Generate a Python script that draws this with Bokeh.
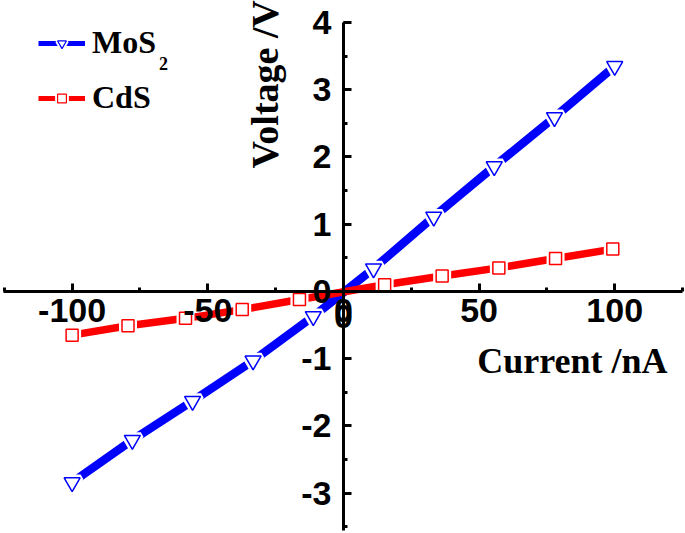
import math
from bokeh.plotting import figure
from bokeh.models import (Range1d, SingleIntervalTicker, Label, Legend, LegendItem,
                          ColumnDataSource, PrintfTickFormatter, AllLabels)
from bokeh.embed import file_html
from bokeh.resources import INLINE

# ---- data ----
mos2_current = [-100, -77.8, -55.6, -33.3, -11.1, 11.1, 33.3, 55.6, 77.8, 100]
mos2_voltage = [-2.84, -2.21, -1.63, -1.03, -0.37, 0.34, 1.11, 1.86, 2.59, 3.35]
cds_current = [-100, -79.4, -58.2, -37.3, -16.2, 15.2, 36.4, 57.3, 78.2, 99.3]
cds_voltage = [-0.65, -0.51, -0.40, -0.27, -0.12, 0.10, 0.23, 0.35, 0.49, 0.63]

series_names = ["MoS", "CdS"]
x_label = "Current /nA"
y_label = "Voltage /V"

BLUE = "#0000FF"
RED = "#FF0000"

p = figure(width=685, height=533, output_backend="svg", toolbar_location=None,
           x_range=Range1d(-126.4, 126.1), y_range=Range1d(-3.6, 4.327),
           min_border=0, min_border_left=0, min_border_right=0,
           min_border_top=0, min_border_bottom=0)
p.outline_line_color = None
p.xgrid.visible = False
p.ygrid.visible = False
p.background_fill_color = "white"
p.border_fill_color = "white"

# axes crossing at the origin
p.xaxis.fixed_location = 0
p.yaxis.fixed_location = 0
p.xaxis.ticker = SingleIntervalTicker(interval=50, num_minor_ticks=2)
p.yaxis.ticker = SingleIntervalTicker(interval=1, num_minor_ticks=2)
p.xaxis.bounds = (-125.3, 125)
p.yaxis.bounds = (-3.55, 4)
for ax in (p.xaxis, p.yaxis):
    ax.formatter = PrintfTickFormatter(format="%d")
    ax.major_label_policy = AllLabels()
    ax.axis_line_width = 3
    ax.axis_line_color = "black"
    ax.major_tick_line_width = 3
    ax.minor_tick_line_width = 3
    ax.major_tick_in = 8
    ax.major_tick_out = 0
    ax.minor_tick_in = 4
    ax.minor_tick_out = 0
    ax.major_label_text_font = "Liberation Sans"
    ax.major_label_text_font_style = "bold"
    ax.major_label_text_font_size = "34px"
    ax.major_label_text_color = "black"
p.xaxis.major_label_standoff = 8
p.yaxis.major_label_standoff = 12

src_m = ColumnDataSource(dict(x=mos2_current, y=mos2_voltage))
src_c = ColumnDataSource(dict(x=cds_current, y=cds_voltage))

# MoS2
p.line("x", "y", source=src_m, line_color=BLUE, line_width=8.5)
p.scatter("x", "y", source=src_m, marker="inverted_triangle", size=17,
          fill_color="white", line_color="white", line_width=6)
p.scatter("x", "y", source=src_m, marker="inverted_triangle", size=16,
          fill_color="white", line_color=BLUE, line_width=1.5)
# CdS
p.line("x", "y", source=src_c, line_color=RED, line_width=7.5)
p.scatter("x", "y", source=src_c, marker="square", size=12,
          fill_color="white", line_color="white", line_width=6)
p.scatter("x", "y", source=src_c, marker="square", size=12,
          fill_color="white", line_color=RED, line_width=1.5)

# legend sample renderers (NaN data: nothing plotted, legend styling only)
nan = [float("nan")]
lm1 = p.line(x=nan, y=nan, line_color=BLUE, line_width=5)
lm2 = p.scatter(x=nan, y=nan, marker="inverted_triangle", fill_color="white", line_color="white", line_width=5)
lm3 = p.scatter(x=nan, y=nan, marker="inverted_triangle", fill_color="white", line_color=BLUE, line_width=1.2)
lc1 = p.line(x=nan, y=nan, line_color=RED, line_width=5)
lc2 = p.scatter(x=nan, y=nan, marker="square", fill_color="white", line_color="white", line_width=5)
lc3 = p.scatter(x=nan, y=nan, marker="square", fill_color="white", line_color=RED, line_width=1.2)

legend = Legend(items=[LegendItem(label=series_names[0], renderers=[lm1, lm2, lm3]),
                       LegendItem(label=series_names[1], renderers=[lc1, lc2, lc3])],
                location=(38, 417), orientation="vertical",
                glyph_width=47, glyph_height=22, label_height=22,
                label_standoff=7, spacing=18, padding=0, margin=0,
                border_line_color=None, background_fill_alpha=0,
                label_text_font="Liberation Serif", label_text_font_style="bold",
                label_text_font_size="32px", label_text_color="black")
p.add_layout(legend, "center")

# subscript of MoS2
p.add_layout(Label(x=-66.3, y=3.39, text="2", text_font="Liberation Serif",
                   text_font_style="bold", text_font_size="18px", text_color="black",
                   text_align="center", text_baseline="middle"))

# the x-axis "0" tick label, which the crossing axes leave out
p.add_layout(Label(x=0, y=-0.37, text="0", text_font="Liberation Sans",
                   text_font_style="bold", text_font_size="34px", text_color="black",
                   text_align="center", text_baseline="middle"))

# axis titles
p.add_layout(Label(x=84.4, y=-1.03, text=x_label, text_font="Liberation Serif",
                   text_font_style="bold", text_font_size="36px", text_color="black",
                   text_align="center", text_baseline="middle"))
p.add_layout(Label(x=-28.9, y=3.08, text=y_label, text_font="Liberation Serif",
                   text_font_style="bold", text_font_size="38px", angle=math.pi / 2,
                   text_color="black", text_align="center", text_baseline="middle"))

open("out.html", "w").write(file_html(p, INLINE))
